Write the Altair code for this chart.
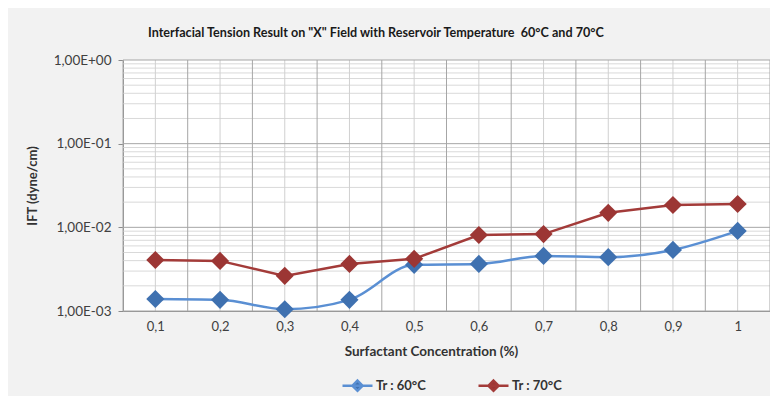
import altair as alt
import pandas as pd

concentration = [0.1, 0.2, 0.3, 0.4, 0.5, 0.6, 0.7, 0.8, 0.9, 1.0]
ift_60 = [1.39e-3, 1.36e-3, 1.05e-3, 1.36e-3, 3.56e-3, 3.65e-3, 4.55e-3, 4.40e-3, 5.37e-3, 9.06e-3]
ift_70 = [4.07e-3, 3.97e-3, 2.63e-3, 3.65e-3, 4.20e-3, 8.10e-3, 8.30e-3, 1.49e-2, 1.85e-2, 1.90e-2]
series = ["Tr : 60°C", "Tr : 70°C"]
line_colors = ["#5a8fd3", "#a33b39"]
marker_colors = ["#3f71b0", "#9c3634"]

y_decades = [1.0, 0.1, 0.01, 0.001]
y_minor = [m * d for d in [0.1, 0.01, 0.001] for m in range(2, 10)]
x_bounds = [0.05, 0.15, 0.25, 0.35, 0.45, 0.55, 0.65, 0.75, 0.85, 0.95, 1.05]

df = pd.DataFrame({
    "conc": concentration * 2,
    "ift": ift_60 + ift_70,
    "series": [series[0]] * len(concentration) + [series[1]] * len(concentration),
})

FONT = "Lato"
xscale = alt.Scale(domain=[0.05, 1.05], nice=False, zero=False)
yscale = alt.Scale(type="log", domain=[0.001, 1], nice=False)

x_axis = alt.Axis(values=concentration,
                  labelExpr="datum.value == 1 ? '1' : replace(format(datum.value, '.1f'), '.', ',')",
                  grid=False, ticks=False, domainColor="#8c8c8c", labelPadding=9,
                  labelFontSize=13, labelColor="#404040", labelFont=FONT,
                  titleFont=FONT, titleFontSize=13.5, titleFontWeight="bold",
                  titleColor="#333333", titlePadding=11, titleX=308)
y_axis = alt.Axis(values=y_decades,
                  labelExpr="'1,00E' + (datum.value >= 1 ? '+00' : '-0' + round(-log(datum.value) / LN10))",
                  grid=False, tickSize=5, tickColor="#8c8c8c", domainColor="#8c8c8c",
                  labelPadding=7, labelFontSize=13.5, labelColor="#404040", labelFont=FONT,
                  titleFont=FONT, titleFontSize=13, titleFontWeight="bold",
                  titleColor="#333333", titlePadding=14)

X_TITLE = "Surfactant Concentration (%)"
Y_TITLE = "IFT (dyne/cm)"
x_enc = alt.X("conc:Q", scale=xscale, title=X_TITLE, axis=x_axis)
y_enc = alt.Y("ift:Q", scale=yscale, title=Y_TITLE, axis=y_axis)

minor_h = alt.Chart(pd.DataFrame({"ift": y_minor})).mark_rule(color="#d9d9d9", strokeWidth=1).encode(y=y_enc)
major_h = alt.Chart(pd.DataFrame({"ift": y_decades})).mark_rule(color="#a6a6a6", strokeWidth=1).encode(y=y_enc)
minor_v = alt.Chart(pd.DataFrame({"conc": concentration})).mark_rule(color="#d0d0d0", strokeWidth=1).encode(x=x_enc)
major_v = alt.Chart(pd.DataFrame({"conc": x_bounds})).mark_rule(color="#a6a6a6", strokeWidth=1).encode(x=x_enc)

stroke_scale = alt.Scale(domain=series, range=line_colors)
fill_scale = alt.Scale(domain=series, range=marker_colors)

legend = alt.Legend(title=None, orient="none", direction="horizontal", legendX=218, legendY=309,
                    symbolType="M-1,0H1M0,-0.34L0.34,0L0,0.34L-0.34,0Z", symbolSize=900,
                    symbolStrokeWidth=2.5, labelFont=FONT, labelFontSize=13, labelFontWeight="bold",
                    labelColor="#333333", columnPadding=46, labelOffset=2)

base = alt.Chart(df)
line60 = base.transform_filter(alt.datum.series == series[0]).mark_line(
    strokeWidth=2.5, interpolate="monotone").encode(
    x=x_enc, y=y_enc, stroke=alt.Stroke("series:N", scale=stroke_scale, legend=legend))
line70 = base.transform_filter(alt.datum.series == series[1]).mark_line(
    strokeWidth=2.5).encode(
    x=x_enc, y=y_enc, stroke=alt.Stroke("series:N", scale=stroke_scale, legend=legend))
points = base.mark_point(shape="diamond", size=330, filled=True, opacity=1).encode(
    x=x_enc, y=y_enc, fill=alt.Fill("series:N", scale=fill_scale, legend=legend))

chart = alt.layer(minor_h, minor_v, major_h, major_v, line60, line70, points).properties(
    width=647, height=251,
    background="#f2f2f2",
    padding={"left": 115, "top": 52, "right": 0, "bottom": 85},
    autosize=alt.AutoSizeParams(type="none"),
    title=alt.TitleParams(
        'Interfacial Tension Result on "X" Field with Reservoir Temperature \u00a060°C and 70°C',
        font=FONT, fontSize=12.6, fontWeight="bold", color="#1a1a1a",
        anchor="start", frame="group", dx=25, offset=13),
).configure_view(fill="white", stroke=None)

chart.save("out.html", embed_options={"renderer": "svg", "actions": False})
